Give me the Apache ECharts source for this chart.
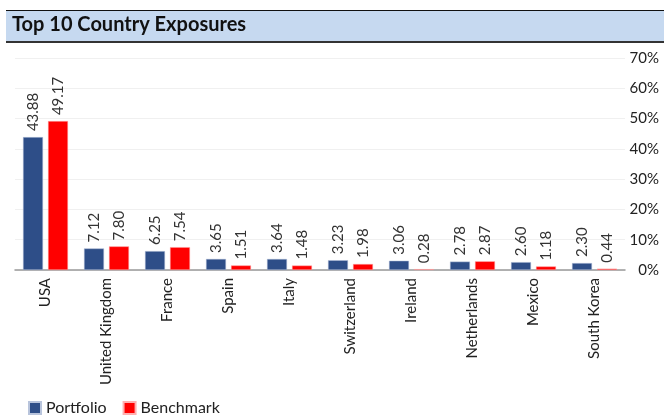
<!DOCTYPE html>
<html>
<head>
<meta charset="utf-8">
<script src="https://cdn.jsdelivr.net/npm/echarts@6/dist/echarts.min.js"></script>
<style>
	html, body { margin: 0; padding: 0; background: #fff; }
	#main { width: 664px; height: 419px; }
</style>
</head>
<body>
<div id="main"></div>
<script>
var countries = ['USA', 'United Kingdom', 'France', 'Spain', 'Italy', 'Switzerland', 'Ireland', 'Netherlands', 'Mexico', 'South Korea'];
var portfolio = [43.88, 7.12, 6.25, 3.65, 3.64, 3.23, 3.06, 2.78, 2.60, 2.30];
var benchmark = [49.17, 7.80, 7.54, 1.51, 1.48, 1.98, 0.28, 2.87, 1.18, 0.44];
var yTicks = [0, 10, 20, 30, 40, 50, 60, 70];

var font = 'Lato, "Open Sans", sans-serif';

var myChart = echarts.init(document.getElementById('main'));

var valueLabel = {
	show: true,
	position: 'top',
	rotate: 90,
	align: 'left',
	verticalAlign: 'middle',
	distance: 6,
	color: '#333',
	fontSize: 15,
	fontFamily: font,
	formatter: function(p) {
		return p.value.toFixed(2);
	}
};

var option = {
	backgroundColor: '#fff',
	animation: false,
	graphic: [{
		type: 'rect',
		shape: { x: 6, y: 10, width: 660, height: 32 },
		style: { fill: '#c6d9f0' }
	}, {
		type: 'rect',
		shape: { x: 6, y: 10, width: 660, height: 1 },
		style: { fill: '#111' }
	}, {
		type: 'rect',
		shape: { x: 6, y: 41, width: 660, height: 2 },
		style: { fill: '#333' }
	}, {
		type: 'text',
		left: 12,
		top: 15,
		style: {
			text: 'Top 10 Country Exposures',
			font: 'bold 20px ' + font,
			fill: '#111'
		}
	}],
	legend: {
		left: 23,
		top: 395,
		itemWidth: 12,
		itemHeight: 12,
		itemGap: 16,
		icon: 'rect',
		textStyle: { fontSize: 16, color: '#222', fontFamily: font },
		data: ['Portfolio', 'Benchmark']
	},
	grid: {
		left: 15,
		right: 39,
		top: 58,
		bottom: 149
	},
	xAxis: {
		type: 'category',
		data: countries,
		axisLine: { show: true, lineStyle: { color: '#999', width: 1.5 } },
		axisTick: { show: false },
		axisLabel: {
			rotate: 90,
			interval: 0,
			margin: 8,
			color: '#222',
			fontSize: 15,
			fontFamily: font
		}
	},
	yAxis: {
		type: 'value',
		position: 'right',
		min: yTicks[0],
		max: yTicks[yTicks.length - 1],
		interval: 10,
		axisLine: { show: false },
		axisTick: { show: false },
		splitLine: { show: true, lineStyle: { color: '#f0f0f0' } },
		axisLabel: {
			align: 'right',
			margin: 34,
			color: '#222',
			fontSize: 15,
			fontFamily: font,
			formatter: '{value}%'
		}
	},
	series: [{
		name: 'Portfolio',
		type: 'bar',
		barWidth: 20,
		barGap: '25%',
		data: portfolio,
		itemStyle: { color: '#2e4e88', borderColor: '#b8c4dc', borderWidth: 0.5 },
		label: valueLabel
	}, {
		name: 'Benchmark',
		type: 'bar',
		barWidth: 20,
		data: benchmark,
		itemStyle: { color: '#ff0000', borderColor: '#ffb0b0', borderWidth: 0.5 },
		label: valueLabel
	}]
};
myChart.setOption(option);
</script>
</body>
</html>
